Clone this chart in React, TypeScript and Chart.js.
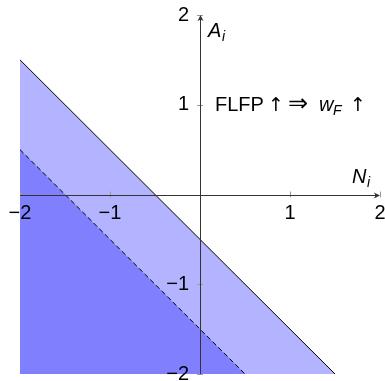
import React, { useEffect, useRef } from "react";
import { Chart, registerables } from "chart.js";

Chart.register(...registerables);

// Boundary lines of the two shaded regions (A_i against N_i)
const solidBoundary = [
  { x: -2, y: 1.5 },
  { x: 1.5, y: -2 },
  { x: 2, y: -2 },
];
const dashedBoundary = [
  { x: -2, y: 0.5 },
  { x: 0.5, y: -2 },
];

const xTicks = [-2, -1, 1, 2];
const xTickLabels = ["\u22122", "\u22121", "1", "2"];
const yTicks = [-2, -1, 1, 2];
const yTickLabels = ["\u22122", "\u22121", "1", "2"];

const axisRange = { min: -2, max: 2 };
const annotationPos = { x: 0, y: 1 };

const FONT = "'Liberation Sans', 'DejaVu Sans', sans-serif";
const SYM_FONT = "'DejaVu Sans', sans-serif";

// A run of text placed at an offset (dx) from the start of the label
type Part = { t: string; dx: number; italic?: boolean; sub?: boolean; sym?: boolean; size?: number; center?: boolean };

function drawRich(ctx: CanvasRenderingContext2D, parts: Part[], x: number, y: number, size: number) {
  ctx.textBaseline = "alphabetic";
  for (const p of parts) {
    const s = p.size ?? (p.sub ? Math.round(size * 0.7) : size);
    const fam = p.sym ? SYM_FONT : FONT;
    ctx.font = `${p.italic ? "italic " : ""}${s}px ${fam}`;
    ctx.textAlign = p.center ? "center" : "left";
    const dy = p.sub ? size * 0.22 : 0;
    ctx.fillText(p.t, x + p.dx, y + dy);
  }
}

function arrowHead(ctx: CanvasRenderingContext2D, x: number, y: number, dir: "right" | "up") {
  ctx.save();
  ctx.translate(x, y);
  if (dir === "up") ctx.rotate(-Math.PI / 2);
  ctx.beginPath();
  ctx.moveTo(0, 0);
  ctx.lineTo(-6, -3);
  ctx.lineTo(-4.5, 0);
  ctx.lineTo(-6, 3);
  ctx.closePath();
  ctx.fillStyle = "#333";
  ctx.fill();
  ctx.restore();
}

const axesPlugin = {
  id: "centerAxes",
  afterDatasetsDraw(chart: any) {
    const ctx: CanvasRenderingContext2D = chart.ctx;
    const xs = chart.scales.x;
    const ys = chart.scales.y;
    const x0 = xs.getPixelForValue(0);
    const y0 = ys.getPixelForValue(0);
    const xl = xs.getPixelForValue(axisRange.min);
    const xr = xs.getPixelForValue(axisRange.max);
    const yb = ys.getPixelForValue(axisRange.min);
    const yt = ys.getPixelForValue(axisRange.max);
    ctx.save();

    // tick marks
    ctx.strokeStyle = "#9a9a9a";
    ctx.lineWidth = 1;
    for (const v of xTicks) {
      const px = Math.round(xs.getPixelForValue(v)) + 0.5;
      ctx.beginPath();
      ctx.moveTo(px, y0 - 3);
      ctx.lineTo(px, y0 + 3);
      ctx.stroke();
    }
    for (const v of yTicks) {
      const py = Math.round(ys.getPixelForValue(v)) + 0.5;
      ctx.beginPath();
      ctx.moveTo(x0 - 3, py);
      ctx.lineTo(x0 + 3, py);
      ctx.stroke();
    }

    // axis lines
    ctx.strokeStyle = "#333";
    ctx.lineWidth = 1;
    ctx.beginPath();
    ctx.moveTo(xl, Math.round(y0) + 0.5);
    ctx.lineTo(xr - 2, Math.round(y0) + 0.5);
    ctx.moveTo(Math.round(x0) + 0.5, yb);
    ctx.lineTo(Math.round(x0) + 0.5, yt + 2);
    ctx.stroke();
    arrowHead(ctx, xr, Math.round(y0) + 0.5, "right");
    arrowHead(ctx, Math.round(x0) + 0.5, yt, "up");

    // tick labels
    ctx.fillStyle = "#000";
    ctx.font = `20px ${FONT}`;
    ctx.textBaseline = "middle";
    ctx.textAlign = "center";
    xTicks.forEach((v, i) => {
      ctx.fillText(xTickLabels[i], xs.getPixelForValue(v), y0 + 19);
    });
    ctx.textAlign = "right";
    yTicks.forEach((v, i) => {
      ctx.fillText(yTickLabels[i], x0 - 11, ys.getPixelForValue(v));
    });

    // axis titles
    drawRich(
      ctx,
      [
        { t: "N", dx: 0, italic: true },
        { t: "i", dx: 15, italic: true, sub: true },
      ],
      xr - 28,
      y0 - 12,
      20
    );
    drawRich(
      ctx,
      [
        { t: "A", dx: 0, italic: true },
        { t: "i", dx: 14, italic: true, sub: true },
      ],
      x0 + 8,
      yt + 22,
      20
    );

    // annotation
    const ax = xs.getPixelForValue(annotationPos.x) + 15;
    const ay = ys.getPixelForValue(annotationPos.y) + 6;
    drawRich(
      ctx,
      [
        { t: "FLFP", dx: 0 },
        { t: "\u2191", dx: 61, sym: true, center: true, size: 19 },
        { t: "\u21D2", dx: 83, sym: true, center: true, size: 24 },
        { t: "w", dx: 104, italic: true },
        { t: "F", dx: 118, italic: true, sub: true },
        { t: "\u2191", dx: 143, sym: true, center: true, size: 19 },
      ],
      ax,
      ay,
      20
    );
    ctx.restore();
  },
};

export default function App() {
  const ref = useRef<HTMLCanvasElement>(null);
  useEffect(() => {
    if (!ref.current) return;
    const chart = new Chart(ref.current, {
      type: "scatter",
      data: {
        datasets: [
          {
            data: dashedBoundary,
            showLine: true,
            borderColor: "#000",
            borderWidth: 1,
            borderDash: [5, 3],
            backgroundColor: "#8080ff",
            fill: "start",
            pointRadius: 0,
            tension: 0,
            clip: false,
          },
          {
            data: solidBoundary,
            showLine: true,
            borderColor: "#000",
            borderWidth: 1,
            backgroundColor: "#b3b3ff",
            fill: "start",
            pointRadius: 0,
            tension: 0,
            clip: false,
            segment: {
              borderColor: (c: any) => (c.p0.parsed.y <= -2 && c.p1.parsed.y <= -2 ? "rgba(0,0,0,0)" : "#000"),
            },
          },
        ],
      },
      options: {
        responsive: false,
        animation: false,
        events: [],
        layout: { padding: { left: 20, right: 5, top: 15, bottom: 7 } },
        plugins: { legend: { display: false }, tooltip: { enabled: false } },
        scales: {
          x: { type: "linear", min: axisRange.min, max: axisRange.max, display: false },
          y: { type: "linear", min: axisRange.min, max: axisRange.max, display: false },
        },
      },
      plugins: [axesPlugin],
    } as any);
    return () => chart.destroy();
  }, []);
  return (
    <div style={{ position: "fixed", left: 0, top: 0, width: 385, height: 381, background: "#fff" }}>
      <canvas ref={ref} width={385} height={381} style={{ display: "block" }} />
    </div>
  );
}
